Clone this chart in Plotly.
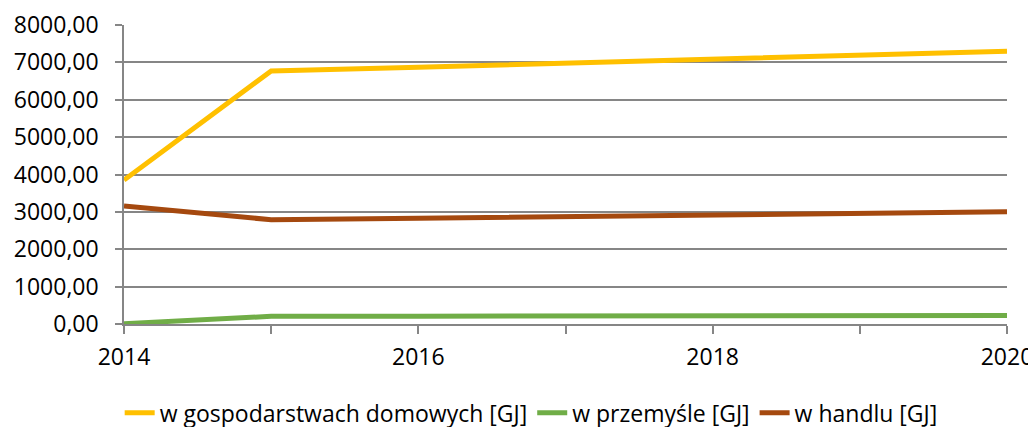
import plotly.graph_objects as go

years = [2014, 2015, 2016, 2017, 2018, 2019, 2020]
households = [3850, 6770, 6870, 6970, 7080, 7190, 7300]
industry = [10, 205, 210, 212, 215, 220, 225]
trade = [3155, 2790, 2830, 2870, 2910, 2960, 3005]

names = ["w gospodarstwach domowych [GJ]", "w przemyśle [GJ]", "w handlu [GJ]"]
colors = ["#FFC000", "#70AD47", "#A5490F"]

fig = go.Figure()
for name, vals, c in zip(names, [households, industry, trade], colors):
    fig.add_trace(go.Scatter(x=years, y=vals, mode="lines", name=name,
                             line=dict(color=c, width=5)))

FONT = "Open Sans, sans-serif"
fig.update_layout(
    width=1036, height=427,
    margin=dict(l=116, r=37, t=17, b=111),
    plot_bgcolor="white", paper_bgcolor="white",
    separators=",.",
    font=dict(family=FONT, size=23, color="#000000"),
    showlegend=True,
    legend=dict(orientation="h", xref="container", x=0.505, xanchor="center",
                yref="container", y=0.052, yanchor="middle",
                font=dict(size=23), tracegroupgap=0),
)
fig.update_xaxes(range=[2014, 2020], tickvals=[2014, 2016, 2018, 2020],
                 ticktext=["2014", "2016", "2018", "2020"],
                 showgrid=False, showline=True, linecolor="#868686", linewidth=1.5,
                 ticks="outside", ticklen=8, tickcolor="#868686", tickwidth=1.5,
                 ticklabelstandoff=4, automargin=False,
                 minor=dict(dtick=1, tick0=2014, ticks="outside", ticklen=8,
                            tickcolor="#868686", tickwidth=1.5, showgrid=False),
                 zeroline=False)
fig.update_yaxes(range=[0, 8000], dtick=1000, tickformat=".2f",
                 showgrid=True, gridcolor="#868686", gridwidth=1.5,
                 showline=True, linecolor="#868686", linewidth=1.5,
                 ticks="outside", ticklen=7, tickcolor="#868686", tickwidth=1.5,
                 ticklabelstandoff=12, automargin=False,
                 zeroline=False)

fig.write_html("out.html")
